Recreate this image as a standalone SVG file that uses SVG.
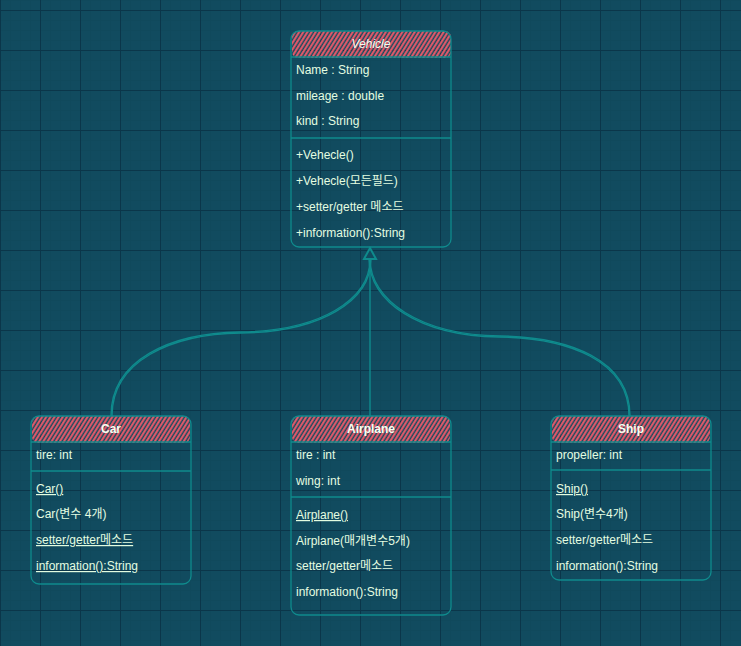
<svg xmlns="http://www.w3.org/2000/svg" width="741" height="646" viewBox="0 0 741 646">
<defs>
<pattern id="grid" patternUnits="userSpaceOnUse" x="0" y="10" width="40" height="40">
<rect width="40" height="40" fill="#114B5F"/>
<path d="M10.5,0V40M20.5,0V40M30.5,0V40M0,10.5H40M0,20.5H40M0,30.5H40" stroke="#10495c" stroke-width="1" fill="none"/>
<path d="M0.5,0V40M0,0.5H40" stroke="#0b364a" stroke-width="1" fill="none"/>
</pattern>
<pattern id="hatch" patternUnits="userSpaceOnUse" width="3.5" height="10" patternTransform="rotate(32)">
<line x1="1.2" y1="0" x2="1.2" y2="10" stroke="#F05A6A" stroke-width="2"/>
</pattern>
<style>
.box{fill:none;stroke:#0F8B8D;stroke-width:1.3}
.sep{stroke:#0F8B8D;stroke-width:1.3}
.hdr{fill:url(#hatch)}
.t{font-family:"Liberation Sans",Arial,"Noto Sans CJK KR",sans-serif;font-size:12px;fill:#E4FDE1}
.title{font-family:"Liberation Sans",Arial,"Noto Sans CJK KR",sans-serif;font-size:12px;fill:#F4FFF2;text-anchor:middle;font-weight:bold}
.u{text-decoration:underline}
.edge{fill:none;stroke:#0F8B8D;stroke-width:1.4}
</style>
</defs>
<rect width="741" height="646" fill="url(#grid)"/>

<g id="connectors">
<path class="edge" d="M111,416 C111,360 170,333 240,332 C320,331 370,300 370,259"/>
<path class="edge" d="M112,416 C112,361 171,334 241,333 C321,332 371,301 371,259" stroke-width="0.8"/>
<path class="edge" d="M630,416 C630,360 570,337 500,336 C420,335 370,300 370,259"/>
<path class="edge" d="M629,416 C629,361 569,338 499,337 C419,336 369,301 369,259" stroke-width="0.8"/>
<path class="edge" d="M370,416 L370,259"/>
<path d="M370,248 L376,259 L364,259 Z" fill="#114B5F" stroke="#0F8B8D" stroke-width="2"/>
</g>

<g id="vehicle">
<rect class="hdr" x="292" y="31" width="159" height="27" rx="6"/>
<rect class="box" x="291" y="31" width="160" height="216" rx="8"/>
<line class="sep" x1="291" y1="57" x2="451" y2="57"/>
<line class="sep" x1="291" y1="138" x2="451" y2="138"/>
<text class="title" x="371" y="48" font-style="italic" style="font-weight:normal">Vehicle</text>
<text class="t" x="296" y="74">Name : String</text>
<text class="t" x="296" y="100">mileage : double</text>
<text class="t" x="296" y="125">kind : String</text>
<text class="t" x="296" y="159">+Vehecle()</text>
<text class="t" x="296" y="185">+Vehecle(모든필드)</text>
<text class="t" x="296" y="211">+setter/getter 메소드</text>
<text class="t" x="296" y="237">+information():String</text>
</g>

<g id="car">
<rect class="hdr" x="32" y="416" width="158" height="27" rx="6"/>
<rect class="box" x="31" y="416" width="160" height="168" rx="8"/>
<line class="sep" x1="31" y1="442" x2="191" y2="442"/>
<line class="sep" x1="31" y1="471" x2="191" y2="471"/>
<text class="title" x="111" y="433">Car</text>
<text class="t" x="36" y="459">tire: int</text>
<text class="t u" x="36" y="493">Car()</text>
<text class="t" x="36" y="518">Car(변수 4개)</text>
<text class="t u" x="36" y="544">setter/getter메소드</text>
<text class="t u" x="36" y="570">information():String</text>
</g>

<g id="airplane">
<rect class="hdr" x="292" y="416" width="158" height="27" rx="6"/>
<rect class="box" x="291" y="416" width="160" height="199" rx="8"/>
<line class="sep" x1="291" y1="442" x2="451" y2="442"/>
<line class="sep" x1="291" y1="497" x2="451" y2="497"/>
<text class="title" x="371" y="433">Airplane</text>
<text class="t" x="296" y="459">tire : int</text>
<text class="t" x="296" y="485">wing: int</text>
<text class="t u" x="296" y="519">Airplane()</text>
<text class="t" x="296" y="545">Airplane(매개변수5개)</text>
<text class="t" x="296" y="570">setter/getter메소드</text>
<text class="t" x="296" y="596">information():String</text>
</g>

<g id="ship">
<rect class="hdr" x="552" y="416" width="158" height="27" rx="6"/>
<rect class="box" x="551" y="416" width="160" height="164" rx="8"/>
<line class="sep" x1="551" y1="442" x2="711" y2="442"/>
<line class="sep" x1="551" y1="470" x2="711" y2="470"/>
<text class="title" x="631" y="433">Ship</text>
<text class="t" x="556" y="459">propeller: int</text>
<text class="t u" x="556" y="493">Ship()</text>
<text class="t" x="556" y="518">Ship(변수4개)</text>
<text class="t" x="556" y="544">setter/getter메소드</text>
<text class="t" x="556" y="570">information():String</text>
</g>
</svg>
